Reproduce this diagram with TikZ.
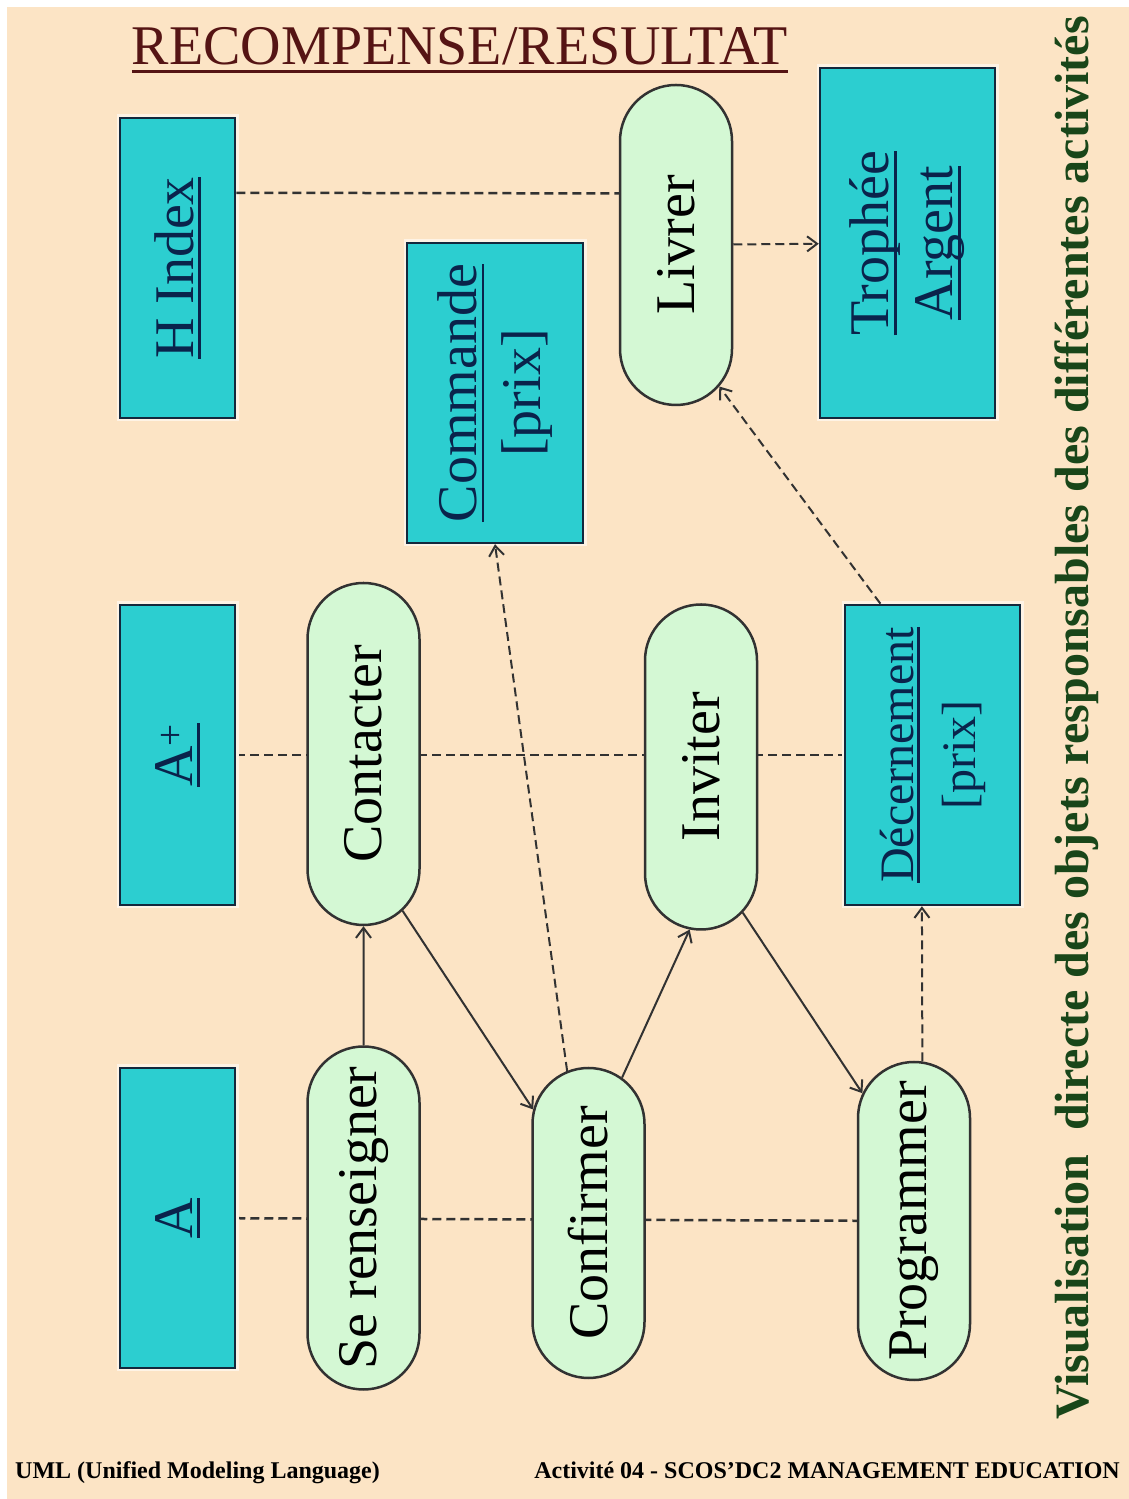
\documentclass[tikz,border=0pt]{standalone}
\usepackage{fontspec}
\setmainfont{Liberation Serif}
\usetikzlibrary{shapes.misc, arrows.meta, backgrounds}

\definecolor{bgpeach}{RGB}{252,228,197}
\definecolor{boxteal}{RGB}{44,206,208}
\definecolor{boxline}{RGB}{20,40,60}
\definecolor{boxtext}{RGB}{10,35,75}
\definecolor{actfill}{RGB}{212,248,212}
\definecolor{actline}{RGB}{50,50,50}
\definecolor{titlered}{RGB}{85,20,20}
\definecolor{sidegreen}{RGB}{25,70,25}

\newsavebox{\uwordbox}
\newcommand{\uword}[1]{\sbox{\uwordbox}{#1}\rlap{\rule[-0.14em]{\wd\uwordbox}{0.05em}}\usebox{\uwordbox}}

\tikzset{
    objbox/.style={rectangle, draw=boxline, line width=2.5pt, fill=boxteal, text=boxtext,
        inner sep=0pt, minimum width=300pt, minimum height=115pt, align=center,
        font=\fontsize{56}{64}\selectfont,
        preaction={draw=white!55!bgpeach, line width=7pt}},
    activity/.style={rounded rectangle, draw=actline, line width=2.5pt, fill=actfill,
        inner sep=0pt, minimum height=112pt, font=\fontsize{56}{64}\selectfont},
    actarrow/.style={draw=actline, line width=2pt, -{Straight Barb[length=10pt,width=15pt]}},
    deparrow/.style={actarrow, dash pattern=on 9pt off 5pt},
    rowlink/.style={draw=actline, line width=2.5pt, dash pattern=on 9pt off 5pt},
}

\begin{document}
\begin{tikzpicture}[x=1pt, y=1pt, rotate=90, transform shape]

    % The slide is laid out lying down, then turned a quarter turn
    \useasboundingbox (0,-1129) rectangle (1499,0);
    \begin{pgfonlayer}{background}
        \fill[white] (0,-1129) rectangle (1499,0);
        \fill[bgpeach] (0,-1129) rectangle (1492,-7);
    \end{pgfonlayer}

    % Title and footer stay upright
    \node[rotate=-90, anchor=base, inner sep=0pt, text=titlered, font=\fontsize{56}{64}\selectfont]
        (title) at (1434,-460) {\uword{RECOMPENSE/RESULTAT}};
    \node[rotate=-90, anchor=base west, inner sep=0pt, font=\bfseries\fontsize{24}{28}\selectfont]
        (uml) at (20,-15) {UML (Unified Modeling Language)};
    \node[rotate=-90, anchor=base east, inner sep=0pt, font=\bfseries\fontsize{24}{28}\selectfont]
        (activite) at (20,-1120) {Activité 04 - SCOS'DC2 MANAGEMENT EDUCATION};

    % Side caption
    \node[text=sidegreen, font=\bfseries\fontsize{48}{56}\selectfont] (caption) at (781,-1077)
        {Visualisation\ \ directe des objets responsables des différentes activités};

    % Objects
    \node[objbox] (hindex) at (1231,-177.5) {\uword{H Index}};
    \node[objbox] (aplus) at (744,-177.5) {\uword{A\textsuperscript{+}}};
    \node[objbox] (aa) at (281,-177.5) {\uword{A}};
    \node[objbox, minimum height=176pt] (commande) at (1106,-495) {\uword{Commande}\\{[prix]}};
    \node[objbox, minimum width=350pt, minimum height=175pt] (trophee) at (1256,-907.5)
        {\uword{Trophée}\\\uword{Argent}};
    \node[objbox, minimum height=175pt, font=\fontsize{48}{62}\selectfont] (decern) at (744,-932.5)
        {\uword{Décernement}\\{[prix]}};

    % Activities
    \node[activity, minimum width=320pt] (livrer) at (1254,-676) {Livrer};
    \node[activity, minimum width=342pt] (contacter) at (745,-363.5) {Contacter};
    \node[activity, minimum width=325pt] (inviter) at (732,-701) {Inviter};
    \node[activity, minimum width=343pt] (serens) at (281,-363.5) {Se renseigner};
    \node[activity, minimum width=310pt] (confirmer) at (276,-588.5) {Confirmer};
    \node[activity, minimum width=318pt] (programmer) at (278,-914) {Programmer};

    % Rows behind the activities
    \begin{pgfonlayer}{background}
        \draw[rowlink] (aplus) -- (decern);
        \draw[rowlink] (aa) -- (programmer);
    \end{pgfonlayer}
    \draw[rowlink] (hindex.-38) -- (livrer.48);

    % Control flow
    \draw[actarrow] (serens) -- (contacter);
    \draw[actarrow] (contacter.194) -- (confirmer.26);
    \draw[actarrow] (confirmer.-13) -- (inviter.176);
    \draw[actarrow] (inviter.196) -- (programmer.22);

    % Object flow
    \draw[deparrow] (confirmer.8) -- (commande.west);
    \draw[deparrow] (programmer.-3) -- (decern.176);
    \draw[deparrow] (decern.19) -- (livrer.197);
    \draw[deparrow] (livrer) -- (trophee);

\end{tikzpicture}
\end{document}
